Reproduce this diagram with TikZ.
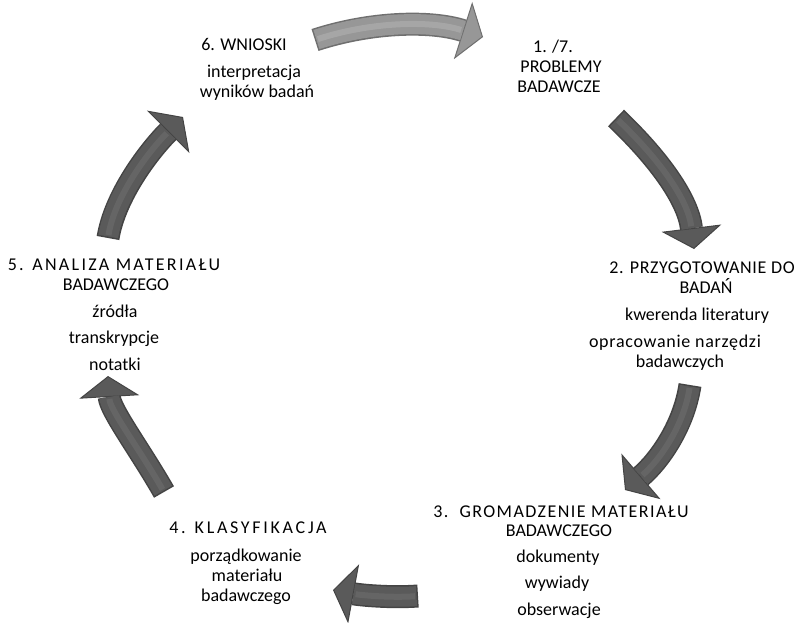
\documentclass[tikz,border=0pt]{standalone}
\usepackage{fontspec}
\setmainfont{Carlito}
\usetikzlibrary{arrows.meta}
\definecolor{topbody}{HTML}{979797}
\definecolor{topedge}{HTML}{6F6F6F}
\definecolor{tophi}{HTML}{C4C4C4}
\definecolor{dkbody}{HTML}{5A5A5A}
\definecolor{dkedge}{HTML}{444444}
\definecolor{dkhi}{HTML}{7A7A7A}
\newcommand\cycarrow[4]{%
  \draw[#1, line width=23pt, -{Triangle[width=60pt,length=21pt,fill=#2,line width=1pt]}] #4;
  \draw[#2, line width=20pt, shorten >=21pt, shorten <=1.5pt] #4;
  \draw[#3, line width=6pt, shorten >=23pt, shorten <=3pt, opacity=0.35] #4;
}
\newcommand\spaced[2]{{\addfontfeatures{LetterSpace=#1}#2}}
\tikzset{
  lbl/.style={anchor=base, font=\fontsize{18}{20}\selectfont, inner sep=0pt, text=black}
}
\begin{document}
\begin{tikzpicture}[x=1pt,y=-1pt]
\useasboundingbox (0,0) rectangle (798,622);
\fill[white] (0,0) rectangle (798,622);

% arrow end points
\coordinate (a1s) at (315,40);  \coordinate (a1e) at (483,37);
\coordinate (a2s) at (616,118); \coordinate (a2e) at (694,249);
\coordinate (a3s) at (690,385); \coordinate (a3e) at (625,490);
\coordinate (a4s) at (418,596); \coordinate (a4e) at (333,590);
\coordinate (a5s) at (164,492); \coordinate (a5e) at (108,376);
\coordinate (a6s) at (108,238); \coordinate (a6e) at (183,117);

\cycarrow{topedge}{topbody}{tophi}{(a1s) .. controls (370,22) and (430,20) .. (a1e)}
\cycarrow{dkedge}{dkbody}{dkhi}{(a2s) .. controls (660,160) and (688,200) .. (a2e)}
\cycarrow{dkedge}{dkbody}{dkhi}{(a3s) .. controls (684,425) and (660,460) .. (a3e)}
\cycarrow{dkedge}{dkbody}{dkhi}{(a4s) .. controls (390,598) and (360,595) .. (a4e)}
\cycarrow{dkedge}{dkbody}{dkhi}{(a5s) .. controls (140,450) and (110,410) .. (a5e)}
\cycarrow{dkedge}{dkbody}{dkhi}{(a6s) .. controls (115,195) and (150,150) .. (a6e)}

% 1
\node[lbl] (t1a) at (553,52) {1. /7.};
\node[lbl] (t1b) at (561,72) {PROBLEMY};
\node[lbl] (t1c) at (559,92) {BADAWCZE};
% 2
\node[lbl] (t2a) at (702,273) {\spaced{3.5}{2. PRZYGOTOWANIE DO}};
\node[lbl] (t2b) at (706,293) {BADAŃ};
\node[lbl] (i2a) at (697,320) {kwerenda literatury};
\node[lbl] (i2b) at (675,347) {\spaced{4}{opracowanie narzędzi}};
\node[lbl] (i2c) at (680,367) {badawczych};
% 3
\node[lbl] (t3a) at (561,517) {\spaced{8}{3.~~GROMADZENIE MATERIAŁU}};
\node[lbl] (t3b) at (559,536) {BADAWCZEGO};
\node[lbl] (i3a) at (558,562) {dokumenty};
\node[lbl] (i3b) at (557,588) {wywiady};
\node[lbl] (i3c) at (559,615) {obserwacje};
% 4
\node[lbl] (t4a) at (248,533) {\spaced{15}{4. KLASYFIKACJA}};
\node[lbl] (i4a) at (246,561) {porządkowanie};
\node[lbl] (i4b) at (247,581) {materiału};
\node[lbl] (i4c) at (246,601) {badawczego};
% 5
\node[lbl] (t5a) at (114,270) {\spaced{12.8}{5. ANALIZA MATERIAŁU}};
\node[lbl] (t5b) at (116,290) {BADAWCZEGO};
\node[lbl] (i5a) at (115,317) {źródła};
\node[lbl] (i5b) at (114,343) {transkrypcje};
\node[lbl] (i5c) at (115,370) {notatki};
% 6
\node[lbl] (t6a) at (244,50) {6. WNIOSKI};
\node[lbl] (i6a) at (254,77) {interpretacja};
\node[lbl] (i6b) at (257,97) {wyników badań};
\end{tikzpicture}
\end{document}
